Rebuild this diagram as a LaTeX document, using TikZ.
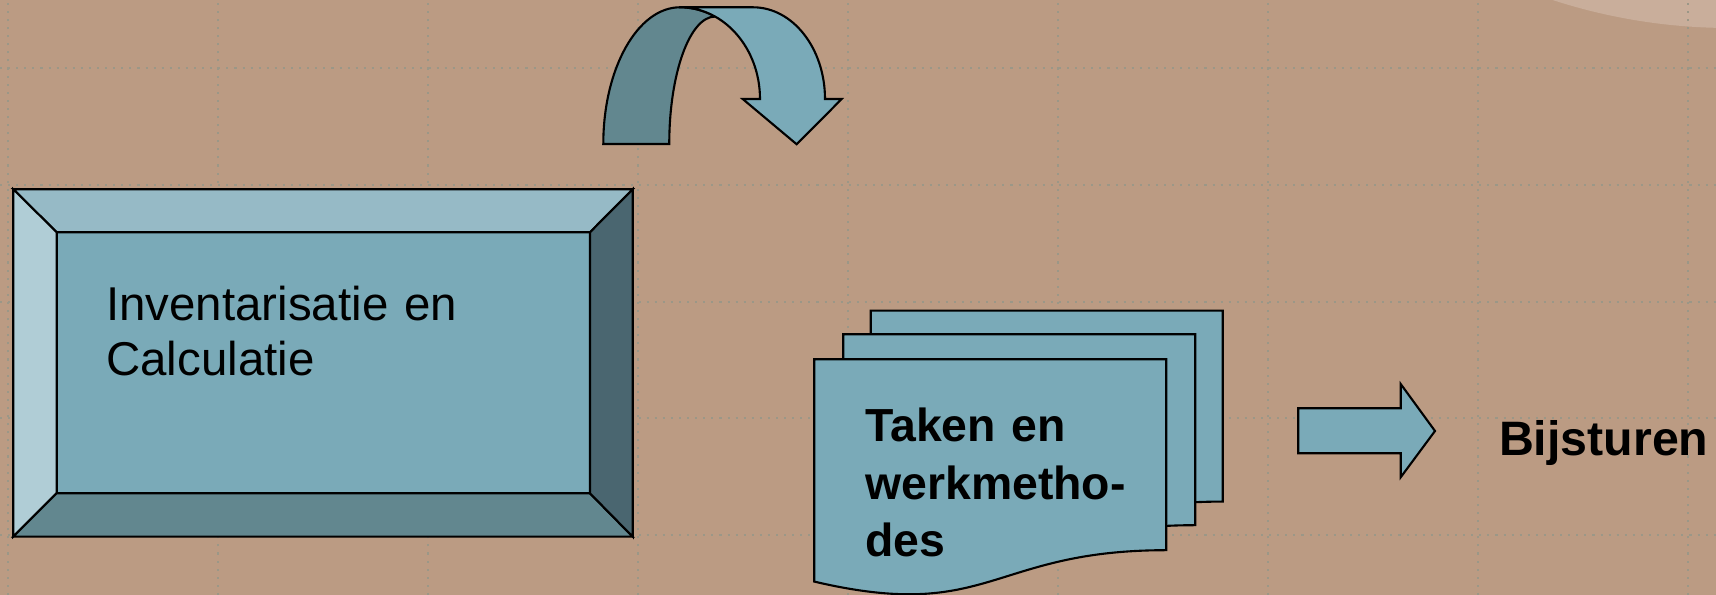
\documentclass[tikz,border=0pt]{standalone}
\usepackage{fontspec}
\setmainfont{Liberation Sans}
\usepackage{tikz}
\definecolor{Slide}{HTML}{BB9B83}
\definecolor{SlideLight}{HTML}{C9AE9B}
\definecolor{Grid}{HTML}{9B9787}
\definecolor{Face}{HTML}{7AAAB8}
\definecolor{BevelTop}{HTML}{96BAC6}
\definecolor{BevelLeft}{HTML}{B0CDD6}
\definecolor{BevelBottom}{HTML}{62878F}
\definecolor{BevelRight}{HTML}{4A6670}

\begin{document}
\begin{tikzpicture}[
    edge/.style={draw=black,line width=0.6pt,line join=miter},
    face/.style={rectangle,edge,fill=Face,inner sep=0pt,outer sep=0pt},
    txt/.style={inner sep=0pt,anchor=base west,align=left},
    gridline/.style={draw=Grid,line width=0.6pt,dash pattern=on 0.6pt off 1.7pt},
]
\useasboundingbox (0,0) rectangle (17.16,5.95);
\fill[Slide] (0,0) rectangle (17.16,5.95);
\begin{scope}
\clip (0,0) rectangle (17.16,5.95);
\fill[SlideLight] (17.30,11.40) circle (5.73);
\end{scope}
\foreach \x in {0.08,2.18,...,16.88}
  \draw[gridline] (\x,0) -- (\x,5.95);
\foreach \y in {0.60,1.77,2.93,4.10,5.27}
  \draw[gridline] (0,\y) -- (17.16,\y);

% bevelled box
\node[face,minimum width=5.333cm,minimum height=2.61cm] (inv) at (3.2335,2.322) {};
\coordinate (invNW) at (0.133,4.057);
\coordinate (invSE) at (6.327,0.583);
\draw[edge,fill=BevelTop] (invNW) -- (invNW -| invSE) -- (inv.north east) -- (inv.north west) -- cycle;
\draw[edge,fill=BevelLeft] (invNW) -- (inv.north west) -- (inv.south west) -- (invNW |- invSE) -- cycle;
\draw[edge,fill=BevelBottom] (invNW |- invSE) -- (inv.south west) -- (inv.south east) -- (invSE) -- cycle;
\draw[edge,fill=BevelRight] (invSE) -- (inv.south east) -- (inv.north east) -- (invNW -| invSE) -- cycle;
\node[txt,text width=4.5cm,font=\fontsize{13.5}{15.65}\selectfont] (invtext) at (1.056,2.743) {Inventarisatie en\\Calculatie};

% curved arrow
\draw[edge,fill=BevelBottom] (6.033,4.51) arc[start angle=180,end angle=90,x radius=0.767,y radius=1.367]
  arc[start angle=90,end angle=64,x radius=0.8,y radius=0.917]
  arc[start angle=90,end angle=180,x radius=0.458,y radius=1.274] -- cycle;
\draw[edge,fill=Face] (6.80,5.877) -- (7.53,5.877) arc[start angle=90,end angle=0,x radius=0.72,y radius=0.917]
  -- (8.417,4.96) -- (7.967,4.507) -- (7.427,4.96) -- (7.60,4.96)
  arc[start angle=0,end angle=90,x radius=0.8,y radius=0.917] -- cycle;

% pages
\foreach \x/\y in {8.707/2.843, 8.433/2.607, 8.143/2.357}
  \draw[edge,fill=Face] (\x,\y) -- ++(3.52,0) -- ++(0,-1.909)
    .. controls +(-1.76,0) and +(1.76,-0.413) .. ++(-3.52,-0.314) -- cycle;
\node[txt,text width=3.2cm,font=\bfseries\fontsize{13.2}{16.36}\selectfont] (taken) at (8.647,1.533) {Taken en\\werkmetho-\\des};

\draw[edge,fill=Face] (12.983,1.867) -- (14.007,1.867) -- (14.007,2.11) -- (14.35,1.64)
  -- (14.007,1.177) -- (14.007,1.417) -- (12.983,1.417) -- cycle;
\node[txt,font=\bfseries\fontsize{13.75}{16}\selectfont] (bijsturen) at (14.983,1.39) {Bijsturen};
\end{tikzpicture}
\end{document}
